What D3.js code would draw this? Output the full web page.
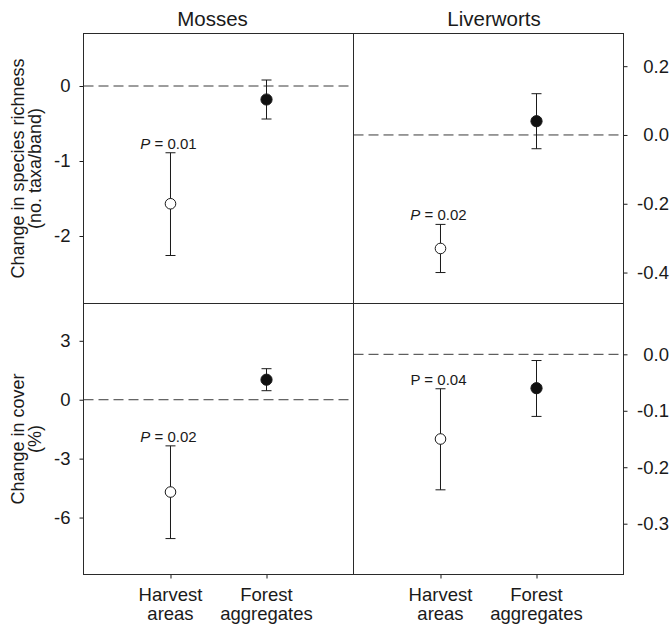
<!DOCTYPE html>
<html>
<head>
<meta charset="utf-8">
<script src="https://cdn.jsdelivr.net/npm/d3@7"></script>
<style>
  html, body { margin: 0; padding: 0; background: #fff; }
  svg { display: block; font-family: "Liberation Sans", Arial, Helvetica, sans-serif; }
</style>
</head>
<body>
<svg id="chart" width="670" height="625"></svg>
<script>
// ---------- data ----------
const categories = ["Harvest areas", "Forest aggregates"];
const columnTitles = ["Mosses", "Liverworts"];
const rowLabels = [["Change in species richness", "(no. taxa/band)"], ["Change in cover", "(%)"]];

// Mosses – species richness
const mossRichMean = [-1.57, -0.18];
const mossRichLow  = [-2.26, -0.44];
const mossRichHigh = [-0.89, 0.08];
const mossRichTicks = [0, -1, -2];
const mossRichDomain = [-2.9, 0.7];

// Liverworts – species richness
const liverRichMean = [-0.33, 0.04];
const liverRichLow  = [-0.40, -0.04];
const liverRichHigh = [-0.26, 0.12];
const liverRichTicks = [0.2, 0.0, -0.2, -0.4];
const liverRichDomain = [-0.49, 0.295];

// Mosses – cover
const mossCoverMean = [-4.70, 1.02];
const mossCoverLow  = [-7.07, 0.46];
const mossCoverHigh = [-2.35, 1.58];
const mossCoverTicks = [3, 0, -3, -6];
const mossCoverDomain = [-8.9, 4.9];

// Liverworts – cover
const liverCoverMean = [-0.150, -0.060];
const liverCoverLow  = [-0.240, -0.110];
const liverCoverHigh = [-0.061, -0.011];
const liverCoverTicks = [0.0, -0.1, -0.2, -0.3];
const liverCoverDomain = [-0.39, 0.09];

// P-value annotations (on Harvest areas)
const pValues = ["0.01", "0.02", "0.02", "0.04"];
const pItalic = [true, true, true, false];

// ---------- layout ----------
const svg = d3.select("#chart");
const L = 83.5, M = 353.5, R = 623.5, T = 33.5, MY = 303.5, B = 574.5;
const ink = "#1a1a1a";

const panels = [
  {x0: L, x1: M, y0: T,  y1: MY, mean: mossRichMean,  lo: mossRichLow,  hi: mossRichHigh,  ticks: mossRichTicks,  dom: mossRichDomain,  side: "left",  fmt: d3.format("d"),   p: 0},
  {x0: M, x1: R, y0: T,  y1: MY, mean: liverRichMean, lo: liverRichLow, hi: liverRichHigh, ticks: liverRichTicks, dom: liverRichDomain, side: "right", fmt: d3.format(".1f"), p: 1},
  {x0: L, x1: M, y0: MY, y1: B,  mean: mossCoverMean, lo: mossCoverLow, hi: mossCoverHigh, ticks: mossCoverTicks, dom: mossCoverDomain, side: "left",  fmt: d3.format("d"),   p: 2},
  {x0: M, x1: R, y0: MY, y1: B,  mean: liverCoverMean,lo: liverCoverLow,hi: liverCoverHigh,ticks: liverCoverTicks,dom: liverCoverDomain,side: "right", fmt: d3.format(".1f"), p: 3}
];

panels.forEach((pn, pi) => {
  const x = d3.scalePoint().domain(categories).range([pn.x0, pn.x1]).padding(0.906);
  const y = d3.scaleLinear().domain(pn.dom).range([pn.y1, pn.y0]);
  const g = svg.append("g");
  const fmt = v => pn.fmt(v).replace("\u2212", "-");

  // zero reference line
  g.append("line")
    .attr("x1", pn.x0).attr("x2", pn.x1)
    .attr("y1", y(0)).attr("y2", y(0))
    .attr("stroke", "#3a3a3a").attr("stroke-width", 1)
    .attr("stroke-dasharray", "10,5");

  // y axis
  const axis = (pn.side === "left" ? d3.axisLeft(y) : d3.axisRight(y))
    .tickValues(pn.ticks).tickFormat(fmt).tickSize(4).tickSizeOuter(0).tickPadding(pn.side === "left" ? 9 : 0);
  const ag = g.append("g")
    .attr("transform", `translate(${pn.side === "left" ? pn.x0 : pn.x1},0)`)
    .call(axis);
  ag.select(".domain").remove();
  ag.selectAll(".tick line").attr("stroke", ink);
  ag.selectAll(".tick text")
    .attr("fill", ink).attr("font-size", 18.5)
    .attr("font-family", "'Liberation Sans', Arial, sans-serif");
  if (pn.side === "right") {
    ag.selectAll(".tick text").attr("text-anchor", "end").attr("x", 669 - pn.x1);
  }

  // x axis ticks (bottom row)
  if (pn.y1 === B) {
    const xa = g.append("g").attr("transform", `translate(0,${B})`)
      .call(d3.axisBottom(x).tickSize(4).tickSizeOuter(0).tickFormat(""));
    xa.select(".domain").remove();
    xa.selectAll(".tick line").attr("stroke", ink);
    categories.forEach(c => {
      const words = c.split(" ");
      const t = g.append("text")
        .attr("x", x(c)).attr("text-anchor", "middle")
        .attr("font-size", 18.5).attr("fill", ink);
      t.append("tspan").attr("x", x(c)).attr("y", 600.5).text(words[0]);
      t.append("tspan").attr("x", x(c)).attr("y", 620).text(words[1]);
    });
  }

  // error bars
  const capW = 5;
  categories.forEach((c, i) => {
    const cx = x(c);
    g.append("line").attr("x1", cx).attr("x2", cx)
      .attr("y1", y(pn.lo[i])).attr("y2", y(pn.hi[i]))
      .attr("stroke", ink).attr("stroke-width", 1);
    [pn.lo[i], pn.hi[i]].forEach(v => {
      g.append("line").attr("x1", cx - capW).attr("x2", cx + capW)
        .attr("y1", y(v)).attr("y2", y(v))
        .attr("stroke", ink).attr("stroke-width", 1);
    });
  });

  // points
  g.selectAll("circle.pt").data(categories).enter().append("circle")
    .attr("class", "pt")
    .attr("cx", c => x(c))
    .attr("cy", (c, i) => y(pn.mean[i]))
    .attr("r", (c, i) => i === 0 ? 5.3 : 5.6)
    .attr("fill", (c, i) => i === 0 ? "#fff" : "#111")
    .attr("stroke", ink).attr("stroke-width", 1);

  // P annotation
  const pt = g.append("text")
    .attr("x", x(categories[0]) - 2)
    .attr("y", y(pn.hi[0]) - 4)
    .attr("text-anchor", "middle")
    .attr("font-size", 15).attr("fill", ink);
  pt.append("tspan").attr("font-style", pItalic[pn.p] ? "italic" : "normal").text("P");
  pt.append("tspan").text(" = " + pValues[pn.p]);
});

// frame
const frame = svg.append("g").attr("stroke", "#2a2a2a").attr("stroke-width", 1).attr("fill", "none");
frame.append("rect").attr("x", L).attr("y", T).attr("width", R - L).attr("height", B - T);
frame.append("line").attr("x1", M).attr("x2", M).attr("y1", T).attr("y2", B);
frame.append("line").attr("x1", L).attr("x2", R).attr("y1", MY).attr("y2", MY);

// column titles
svg.append("text").attr("x", (L + M) / 2 - 6).attr("y", 25.5)
  .attr("text-anchor", "middle").attr("font-size", 20.5).attr("fill", ink).text(columnTitles[0]);
svg.append("text").attr("x", (M + R) / 2 + 5.5).attr("y", 25.5)
  .attr("text-anchor", "middle").attr("font-size", 20.5).attr("fill", ink).text(columnTitles[1]);

// row labels
[[T, MY], [MY, B]].forEach((r, i) => {
  const cy = (r[0] + r[1]) / 2;
  const t = svg.append("text")
    .attr("transform", `translate(0,${cy}) rotate(-90)`)
    .attr("text-anchor", "middle").attr("font-size", 18).attr("fill", ink);
  t.append("tspan").attr("x", 0).attr("y", 24).text(rowLabels[i][0]);
  t.append("tspan").attr("x", 0).attr("y", 41).text(rowLabels[i][1]);
});
</script>
</body>
</html>
